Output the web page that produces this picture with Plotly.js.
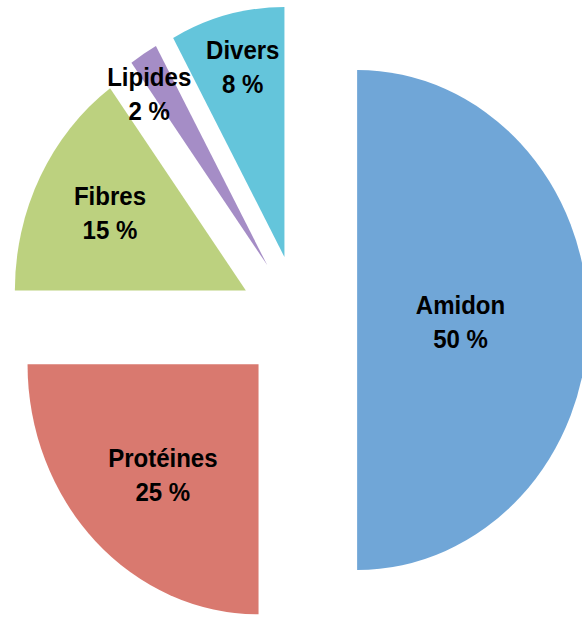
<!DOCTYPE html>
<html>
<head>
<meta charset="utf-8">
<script src="https://cdn.plot.ly/plotly-3.0.1.min.js"></script>
<style>
  html, body { margin: 0; padding: 0; overflow: hidden; width: 582px; height: 621px; background: #ffffff; }
  /* the pie is drawn round, then narrowed horizontally to give the oval look */
  #chart { transform: scaleX(0.924); transform-origin: 0 0; }
</style>
</head>
<body>
<div id="chart"></div>
<script>
// Composition (en %)
const categories = ['Amidon', 'Protéines', 'Fibres', 'Lipides', 'Divers'];
const shares = [50, 25, 15, 2, 8];

// Styling
const sliceColors = ['#70A6D7', '#D9796F', '#BCD17F', '#A58DC6', '#64C5DB'];
const pulls = [0.25, 0.25, 0.26, 0.26, 0.26];          // explosion, fraction of radius
const labelDist = [0.70, 0.85, 0.93, 1.12, 1.05];      // label distance from centre, in radii
const labelNudge = [0, -1, 1, -3, 1];                  // label angle tweak, degrees

const W = 640, H = 642;
const margin = { l: 9, r: 1, t: 5, b: 7 };

const trace = {
  type: 'pie',
  labels: categories,
  values: shares,
  sort: false,
  direction: 'clockwise',
  rotation: 0,
  pull: pulls,
  marker: { colors: sliceColors, line: { width: 0 } },
  textinfo: 'none',
  hoverinfo: 'label+percent',
  showlegend: false
};

// Labels sit along each slice's bisector; paper coords derived from the pie radius
const total = shares.reduce((a, b) => a + b, 0);
const maxPull = Math.max(...pulls);
const plotW = W - margin.l - margin.r;
const plotH = H - margin.t - margin.b;
const rPaperX = 1 / (2 * (1 + maxPull)) * Math.min(plotW, plotH) / plotW;
const rPaperY = 1 / (2 * (1 + maxPull)) * Math.min(plotW, plotH) / plotH;

let cum = 0;
const annotations = categories.map((name, i) => {
  const mid = 360 * (cum + shares[i] / 2) / total + labelNudge[i];
  cum += shares[i];
  const a = mid * Math.PI / 180;
  return {
    xref: 'paper', yref: 'paper',
    x: 0.5 + labelDist[i] * rPaperX * Math.sin(a),
    y: 0.5 + labelDist[i] * rPaperY * Math.cos(a),
    xanchor: 'center', yanchor: 'middle',
    yshift: -2,
    showarrow: false,
    text: '<b>' + name + '<br>' + shares[i] + ' %</b>',
    font: { family: 'Liberation Sans, Arial, sans-serif', size: 26, color: '#000000' },
    align: 'center'
  };
});

const layout = {
  width: W,
  height: H,
  margin: margin,
  paper_bgcolor: '#ffffff',
  plot_bgcolor: '#ffffff',
  showlegend: false,
  annotations: annotations
};

Plotly.newPlot('chart', [trace], layout, { displayModeBar: false, staticPlot: true });
</script>
</body>
</html>
